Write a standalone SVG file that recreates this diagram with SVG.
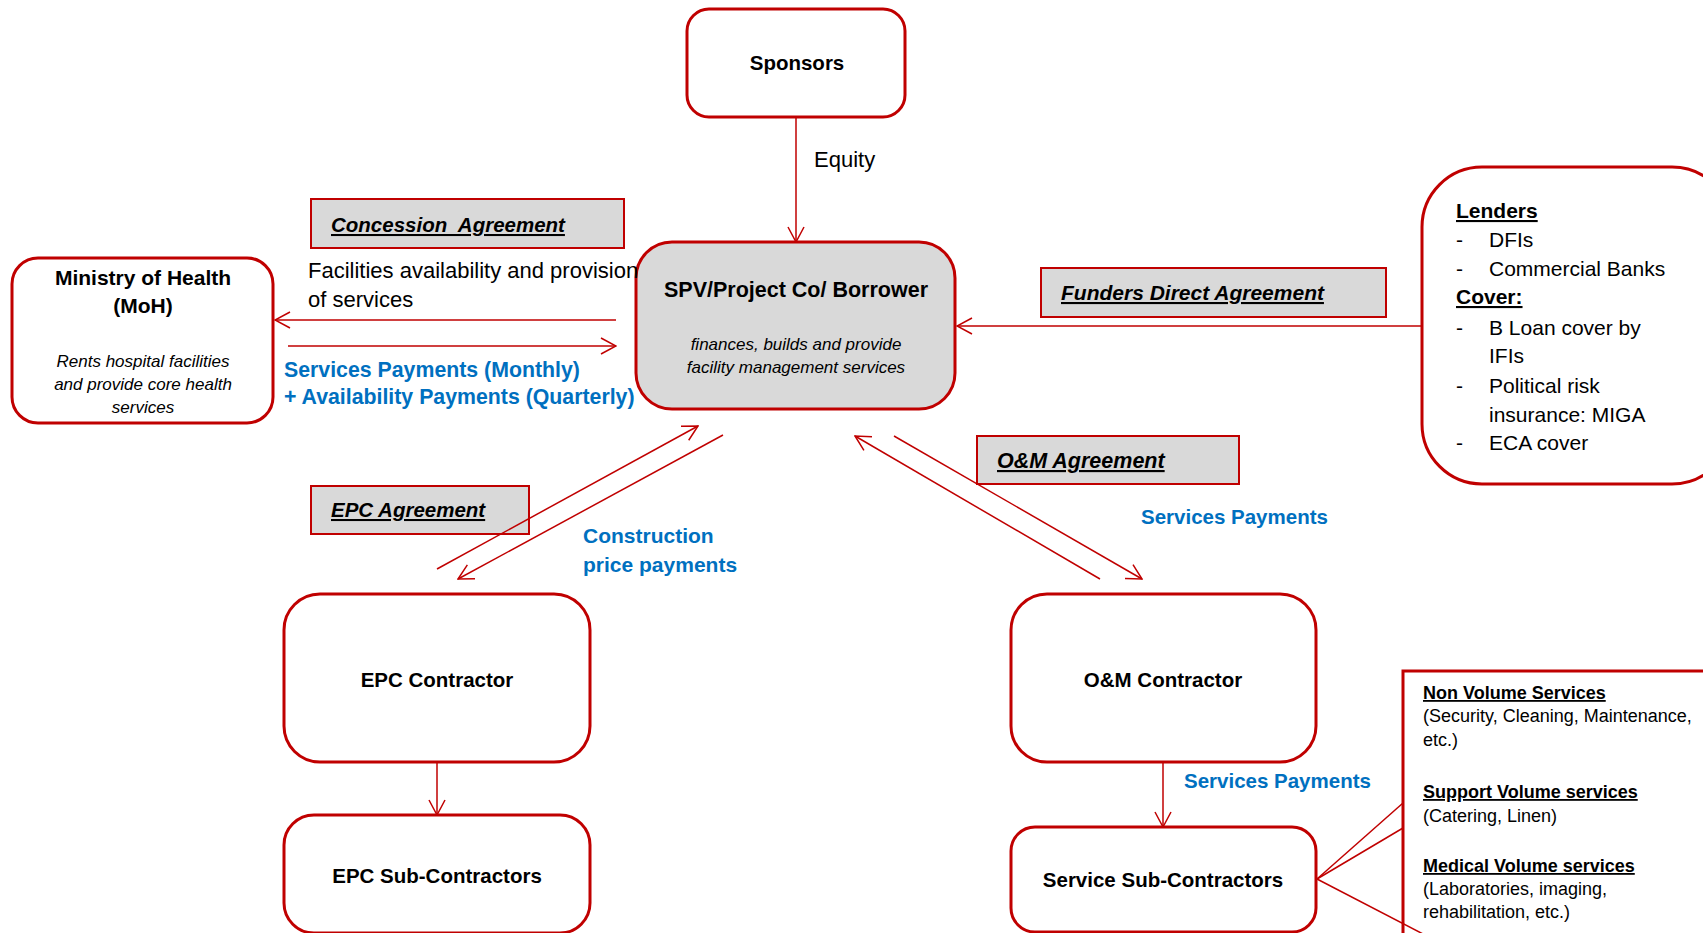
<svg xmlns="http://www.w3.org/2000/svg" width="1703" height="933" viewBox="0 0 1703 933">
<defs>
<style>
text{font-family:"Liberation Sans",Arial,sans-serif;fill:#000}
.node{fill:#fff;stroke:#c00000;stroke-width:3}
.gray{fill:#d9d9d9;stroke:#c00000;stroke-width:3}
.agr{fill:#d9d9d9;stroke:#c00000;stroke-width:2}
.conn{stroke:#c00000;stroke-width:1.5;fill:none}
.title{font-weight:bold;font-size:20.5px;text-anchor:middle}
.sub{font-style:italic;font-size:17px;text-anchor:middle}
.agt{font-weight:bold;font-style:italic;font-size:20.5px;text-decoration:underline}
.blue{fill:#0070c0;font-weight:bold;font-size:20.5px}
.lbl{font-size:22px}
.list{font-size:21px}
.svc{font-size:18px}
.svch{font-size:18px;font-weight:bold;text-decoration:underline}
</style>
<marker id="arr" viewBox="0 0 17 18" refX="16" refY="9" markerWidth="17" markerHeight="18" markerUnits="userSpaceOnUse" orient="auto">
<path d="M1,1 L16,9 L1,17" fill="none" stroke="#c00000" stroke-width="1.5"/>
</marker>
</defs>
<rect width="1703" height="933" fill="#fff"/>

<g id="nodes">
<g id="sponsors">
<rect class="node" x="687" y="9" width="218" height="108" rx="22"/>
<text class="title" x="797" y="70">Sponsors</text>
</g>
<g id="spv">
<rect class="gray" x="636" y="242" width="319" height="167" rx="36"/>
<text class="title" x="796" y="297" style="font-size:21.5px">SPV/Project Co/ Borrower</text>
<text class="sub" x="796" y="350">finances, builds and provide</text>
<text class="sub" x="796" y="373">facility management services</text>
</g>
<g id="moh">
<rect class="node" x="12" y="258" width="261" height="165" rx="26"/>
<text class="title" x="143" y="285" style="font-size:21px">Ministry of Health</text>
<text class="title" x="143" y="313" style="font-size:21px">(MoH)</text>
<text class="sub" x="143" y="367">Rents hospital facilities</text>
<text class="sub" x="143" y="390">and provide core health</text>
<text class="sub" x="143" y="413">services</text>
</g>
<g id="lenders">
<rect class="node" x="1422" y="167" width="310" height="317" rx="60"/>
<text class="list" x="1456" y="218" style="font-weight:bold;text-decoration:underline">Lenders</text>
<text class="list" x="1456" y="247">-</text><text class="list" x="1489" y="247">DFIs</text>
<text class="list" x="1456" y="276">-</text><text class="list" x="1489" y="276">Commercial Banks</text>
<text class="list" x="1456" y="304" style="font-weight:bold;text-decoration:underline">Cover:</text>
<text class="list" x="1456" y="335">-</text><text class="list" x="1489" y="335">B Loan cover by</text>
<text class="list" x="1489" y="363">IFIs</text>
<text class="list" x="1456" y="393">-</text><text class="list" x="1489" y="393">Political risk</text>
<text class="list" x="1489" y="422">insurance: MIGA</text>
<text class="list" x="1456" y="450">-</text><text class="list" x="1489" y="450">ECA cover</text>
</g>
<g id="concession">
<rect class="agr" x="311" y="199" width="313" height="49"/>
<text class="agt" x="331" y="232" xml:space="preserve">Concession  Agreement</text>
</g>
<g id="funders">
<rect class="agr" x="1041" y="268" width="345" height="49"/>
<text class="agt" x="1061" y="300" style="font-size:21px">Funders Direct Agreement</text>
</g>
<g id="om-agreement">
<rect class="agr" x="977" y="436" width="262" height="48"/>
<text class="agt" x="997" y="468" style="font-size:21.5px">O&amp;M Agreement</text>
</g>
<g id="epc-agreement">
<rect class="agr" x="311" y="486" width="218" height="48"/>
<text class="agt" x="331" y="517">EPC Agreement</text>
</g>
<g id="epc">
<rect class="node" x="284" y="594" width="306" height="168" rx="36"/>
<text class="title" x="437" y="687">EPC Contractor</text>
</g>
<g id="epc-sub">
<rect class="node" x="284" y="815" width="306" height="118" rx="30"/>
<text class="title" x="437" y="883">EPC Sub-Contractors</text>
</g>
<g id="om">
<rect class="node" x="1011" y="594" width="305" height="168" rx="36"/>
<text class="title" x="1163" y="687">O&amp;M Contractor</text>
</g>
<g id="service-sub">
<rect class="node" x="1011" y="827" width="305" height="105" rx="24"/>
<text class="title" x="1163" y="887">Service Sub-Contractors</text>
</g>
<g id="services-list">
<rect class="node" x="1403" y="671" width="320" height="300"/>
<text class="svch" x="1423" y="699">Non Volume Services</text>
<text class="svc" x="1423" y="722">(Security, Cleaning, Maintenance,</text>
<text class="svc" x="1423" y="746">etc.)</text>
<text class="svch" x="1423" y="798">Support Volume services</text>
<text class="svc" x="1423" y="822">(Catering, Linen)</text>
<text class="svch" x="1423" y="872">Medical Volume services</text>
<text class="svc" x="1423" y="895">(Laboratories, imaging,</text>
<text class="svc" x="1423" y="918">rehabilitation, etc.)</text>
</g>
</g>

<g id="connectors">
<line class="conn" x1="796" y1="117" x2="796" y2="242" marker-end="url(#arr)"/>
<line class="conn" x1="616" y1="320" x2="275" y2="320" marker-end="url(#arr)"/>
<line class="conn" x1="288" y1="346" x2="616" y2="346" marker-end="url(#arr)"/>
<line class="conn" x1="1422" y1="326" x2="957" y2="326" marker-end="url(#arr)"/>
<line class="conn" x1="437" y1="569" x2="698" y2="426" marker-end="url(#arr)"/>
<line class="conn" x1="723" y1="435" x2="458" y2="579" marker-end="url(#arr)"/>
<line class="conn" x1="1100" y1="579" x2="855" y2="436" marker-end="url(#arr)"/>
<line class="conn" x1="894" y1="436" x2="1142" y2="579" marker-end="url(#arr)"/>
<line class="conn" x1="437" y1="762" x2="437" y2="815" marker-end="url(#arr)"/>
<line class="conn" x1="1163" y1="762" x2="1163" y2="827" marker-end="url(#arr)"/>
<line class="conn" x1="1317" y1="879" x2="1403" y2="803"/>
<line class="conn" x1="1317" y1="879" x2="1403" y2="828"/>
<line class="conn" x1="1317" y1="879" x2="1425" y2="935"/>
</g>

<g id="labels">
<text class="lbl" x="814" y="167">Equity</text>
<text class="lbl" x="308" y="278">Facilities availability and provision</text>
<text class="lbl" x="308" y="307">of services</text>
<text class="blue" x="284" y="377" style="font-size:21.3px">Services Payments (Monthly)</text>
<text class="blue" x="284" y="404" style="font-size:21.3px">+ Availability Payments (Quarterly)</text>
<text class="blue" x="583" y="543" style="font-size:21px">Construction</text>
<text class="blue" x="583" y="572" style="font-size:21px">price payments</text>
<text class="blue" x="1141" y="524">Services Payments</text>
<text class="blue" x="1184" y="788">Services Payments</text>
</g>
</svg>
